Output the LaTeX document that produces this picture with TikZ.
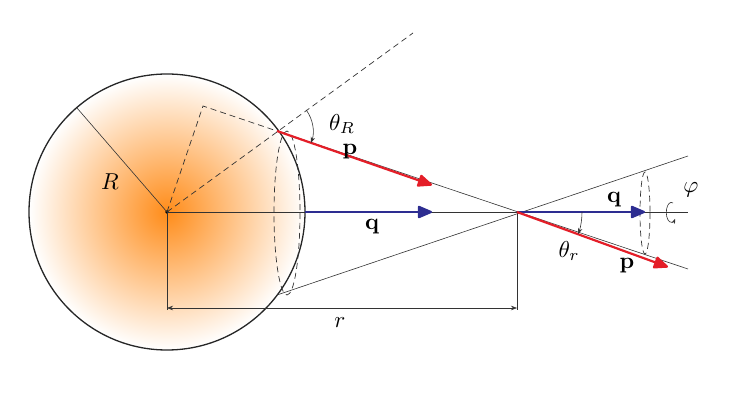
\documentclass[tikz,border=0pt]{standalone}
\usetikzlibrary{arrows.meta}
\definecolor{pred}{RGB}{228,30,40}
\definecolor{qblue}{RGB}{45,45,145}
\begin{document}
\begin{tikzpicture}[x=1pt,y=-1pt,
  thin line/.style={line width=0.6pt,black!80},
  dash line/.style={line width=0.7pt,black!80,dash pattern=on 6pt off 4pt},
  vecred/.style={line width=2.2pt,pred,-{Triangle[length=16pt,width=13pt,round]}},
  vecblue/.style={line width=2.2pt,qblue,-{Triangle[length=16pt,width=13pt,round]}},
  lbl/.style={inner sep=0pt}]
\useasboundingbox (0,0) rectangle (747,411);
\coordinate (O) at (167,212);
\coordinate (A) at (277,131);
\coordinate (B) at (277,295);
\coordinate (X) at (517,212);
\shade[inner color=orange!90, outer color=white] (O) circle[radius=138];
\draw[line width=1.3pt,black!85] (O) circle[radius=138];
\fill (O) circle[radius=1.8];
\draw[thin line] (O) -- (77,108);
\node[lbl] (Rl) at (110,182) {\scalebox{2.3}{$R$}};
\draw[dash line] (O) -- (413,33);
\draw[dash line] (O) -- (203,106) -- (A);
\draw[dash line] (287,213) ellipse[x radius=13,y radius=82];
\draw[thin line] (A) -- (688,269);
\draw[thin line] (B) -- (688,156);
\draw[thin line] (O) -- (688,212);
\draw[thin line] (O) -- (167,310);
\draw[thin line] (X) -- (517,310);
\draw[thin line,{Stealth[length=6pt]}-{Stealth[length=6pt]}] (167,308) -- (517,308);
\node[lbl] (rl) at (340,323) {\scalebox{2.3}{$r$}};
\draw[dash line] (645,213) ellipse[x radius=5,y radius=41];
\draw[vecblue] (305,212) -- (432,212);
\draw[vecblue] (X) -- (645,212);
\draw[vecred] (A) -- (432,185);
\draw[vecred] (X) -- (668,267);
\node[lbl] (q1) at (372,227) {\scalebox{2.3}{$\mathbf{q}$}};
\node[lbl] (p1) at (350,152) {\scalebox{2.3}{$\mathbf{p}$}};
\node[lbl] (q2) at (614,200) {\scalebox{2.3}{$\mathbf{q}$}};
\node[lbl] (p2) at (627,266) {\scalebox{2.3}{$\mathbf{p}$}};
\draw[thin line,-{Stealth[length=6pt]}] (A) ++(-35.8:36) arc[start angle=-35.8,end angle=19.4,radius=36];
\node[lbl] (tR) at (342,124) {\scalebox{2.3}{$\theta_R$}};
\draw[thin line,-{Stealth[length=6pt]}] (X) ++(65,0) arc[start angle=0,end angle=19.8,radius=65];
\node[lbl] (tr) at (569,251) {\scalebox{2.3}{$\theta_r$}};
\draw[thin line,-{Stealth[length=5pt]}] (673,203) arc[start angle=-70,end angle=-320,x radius=5,y radius=10];
\node[lbl] (ph) at (691,190) {\scalebox{2.3}{$\varphi$}};
\end{tikzpicture}
\end{document}
